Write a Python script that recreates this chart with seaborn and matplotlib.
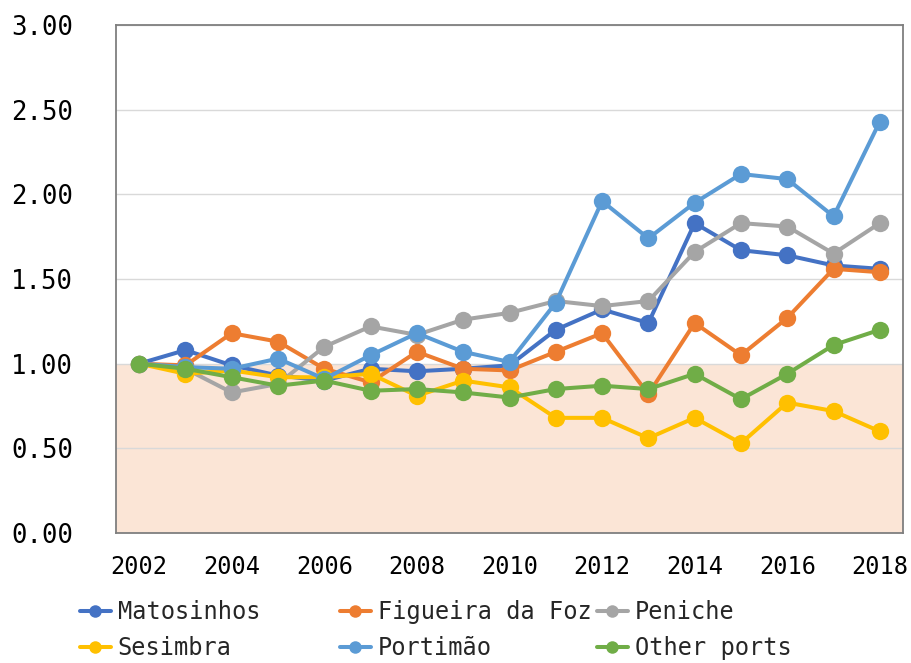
import matplotlib
matplotlib.use("Agg")
import matplotlib.pyplot as plt
from matplotlib.ticker import FormatStrFormatter, MultipleLocator
from matplotlib.lines import Line2D
import seaborn as sns
import pandas as pd

# Index of landings value by port (2002 = 1.00)
years = list(range(2002, 2019))
ports = ["Matosinhos", "Figueira da Foz", "Peniche", "Sesimbra", "Portimão", "Other ports"]

matosinhos = [1.00, 1.08, 0.99, 0.93, 0.90, 0.97, 0.955, 0.97, 0.99, 1.20, 1.32, 1.24, 1.83, 1.67, 1.64, 1.58, 1.56]
figueira   = [1.00, 0.99, 1.18, 1.13, 0.97, 0.89, 1.07, 0.97, 0.96, 1.07, 1.18, 0.82, 1.24, 1.05, 1.27, 1.56, 1.54]
peniche    = [1.00, 0.97, 0.83, 0.88, 1.10, 1.22, 1.17, 1.26, 1.30, 1.37, 1.34, 1.37, 1.66, 1.83, 1.81, 1.65, 1.83]
sesimbra   = [1.00, 0.94, 0.96, 0.92, 0.92, 0.94, 0.81, 0.90, 0.86, 0.68, 0.68, 0.56, 0.68, 0.53, 0.77, 0.72, 0.60]
portimao   = [1.00, 0.98, 0.97, 1.03, 0.91, 1.05, 1.18, 1.07, 1.01, 1.36, 1.96, 1.74, 1.95, 2.12, 2.09, 1.87, 2.43]
other      = [1.00, 0.97, 0.92, 0.87, 0.90, 0.84, 0.85, 0.83, 0.80, 0.85, 0.87, 0.85, 0.94, 0.79, 0.94, 1.11, 1.20]

colors = ["#4472C4", "#ED7D31", "#A5A5A5", "#FFC000", "#5B9BD5", "#70AD47"]

series = [matosinhos, figueira, peniche, sesimbra, portimao, other]
df = pd.DataFrame(
    [(y, p, v) for p, vals in zip(ports, series) for y, v in zip(years, vals)],
    columns=["year", "port", "value"],
)

sns.set_theme(style="white")
plt.rcParams["font.family"] = ["DejaVu Sans Mono", "DejaVu Sans"]

fig = plt.figure(figsize=(9.11, 6.63), dpi=100)
ax = fig.add_axes([116 / 911, 1 - 533 / 663, (903 - 116) / 911, (533 - 25) / 663])

# shaded band below the 1.00 baseline
ax.axhspan(0, 1.0, color="#FBE5D6", zorder=0.2, lw=0)

sns.lineplot(
    data=df, x="year", y="value", hue="port", hue_order=ports,
    palette=colors, marker="o", markersize=12.5, markeredgewidth=0,
    linewidth=2.9, legend=False, ax=ax, zorder=3,
)

ax.set_xlim(2001.5, 2018.5)
ax.set_ylim(0, 3)
ax.yaxis.set_major_locator(MultipleLocator(0.5))
ax.yaxis.set_major_formatter(FormatStrFormatter("%.2f"))
ax.set_xticks(list(range(2002, 2019, 2)))
ax.set_xlabel("")
ax.set_ylabel("")

ax.set_axisbelow(True)
ax.grid(axis="y", color="#D9D9D9", linewidth=1.0)
ax.grid(axis="x", visible=False)
for side in ["left", "right", "top", "bottom"]:
    ax.spines[side].set_visible(True)
    ax.spines[side].set_color("#7F7F7F")
    ax.spines[side].set_linewidth(1.3)

ax.tick_params(axis="y", length=0, pad=31, labelsize=18.5, colors="black")
ax.tick_params(axis="x", length=0, pad=16, labelsize=17, colors="black")

# legend in three fixed columns below the plot
handles = [
    Line2D([], [], color=c, linewidth=2.9, marker="o", markersize=9, markeredgewidth=0)
    for c in colors
]
col_x = [80 / 911, 340 / 911, 597 / 911]
for i, x in enumerate(col_x):
    idx = [i, i + 3]
    fig.legend(
        [handles[j] for j in idx], [ports[j] for j in idx],
        loc="center left", bbox_to_anchor=(x, 1 - 630 / 663),
        frameon=False, fontsize=17, handlelength=1.3, handletextpad=0.3,
        labelspacing=0.5, borderpad=0, borderaxespad=0,
    )

fig.savefig("out.png", dpi=100)
